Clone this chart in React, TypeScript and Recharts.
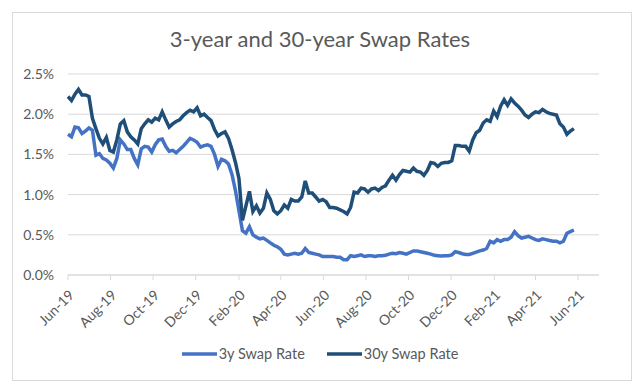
import { LineChart, Line, XAxis, YAxis, CartesianGrid, Legend } from 'recharts';

// sampled every 5 calendar days from 1 Jun 2019, values in %
const SAMPLE_START = '2019-06-01';
const SAMPLE_STEP_DAYS = 5;

const rate3y = [
  1.75, 1.72, 1.84, 1.83, 1.76, 1.79, 1.83, 1.8, 1.49, 1.51,
  1.45, 1.43, 1.39, 1.33, 1.45, 1.68, 1.63, 1.56, 1.56, 1.45,
  1.37, 1.57, 1.6, 1.59, 1.53, 1.62, 1.68, 1.69, 1.6, 1.54,
  1.55, 1.52, 1.56, 1.6, 1.65, 1.7, 1.68, 1.65, 1.59, 1.61,
  1.62, 1.6, 1.5, 1.35, 1.44, 1.42, 1.38, 1.25, 1.05, 0.8,
  0.55, 0.52, 0.6, 0.5, 0.47, 0.45, 0.46, 0.43, 0.4, 0.37,
  0.35, 0.32, 0.26, 0.25, 0.26, 0.27, 0.26, 0.27, 0.33, 0.28,
  0.27, 0.26, 0.25, 0.23, 0.23, 0.23, 0.23, 0.22, 0.22, 0.19,
  0.19, 0.24, 0.23, 0.24, 0.25, 0.23, 0.24, 0.24, 0.23, 0.24,
  0.24, 0.245, 0.26, 0.27, 0.265, 0.28, 0.27, 0.26, 0.28, 0.3,
  0.3, 0.29, 0.28, 0.27, 0.26, 0.245, 0.24, 0.235, 0.24, 0.24,
  0.25, 0.29, 0.28, 0.265, 0.255, 0.255, 0.27, 0.285, 0.3, 0.31,
  0.33, 0.42, 0.4, 0.44, 0.42, 0.44, 0.44, 0.47, 0.54, 0.49,
  0.46, 0.47, 0.48, 0.46, 0.44, 0.43, 0.45, 0.44, 0.43, 0.42,
  0.42, 0.4, 0.42, 0.52, 0.54, 0.56,
];

const rate30y = [
  2.22, 2.17, 2.25, 2.31, 2.24, 2.24, 2.22, 1.95, 1.82, 1.7,
  1.63, 1.71, 1.55, 1.53, 1.68, 1.88, 1.92, 1.78, 1.72, 1.68,
  1.63, 1.82, 1.88, 1.93, 1.9, 1.95, 1.93, 2.03, 1.93, 1.84,
  1.88, 1.91, 1.93, 1.98, 2.02, 2.05, 2.03, 2.08, 1.98, 2.0,
  1.96, 1.92, 1.81, 1.73, 1.76, 1.78, 1.7, 1.56, 1.4, 1.2,
  0.68, 0.86, 1.04, 0.79, 0.86, 0.77, 0.83, 1.02, 0.94, 0.8,
  0.76, 0.8, 0.87, 0.83, 0.94, 0.92, 0.92, 0.97, 1.17, 1.02,
  1.02, 0.97, 0.92, 0.94, 0.91, 0.84, 0.84, 0.83, 0.81, 0.79,
  0.76, 0.84, 1.03, 1.02, 1.08, 1.07, 1.03, 1.07, 1.08, 1.05,
  1.09, 1.11, 1.18, 1.24, 1.18, 1.25, 1.3, 1.29, 1.28, 1.33,
  1.29, 1.28, 1.24, 1.3, 1.4, 1.39, 1.35, 1.39, 1.4, 1.4,
  1.42, 1.61, 1.61, 1.6, 1.6, 1.54, 1.68, 1.77, 1.8, 1.89,
  1.93, 1.91, 2.04, 1.97, 2.1, 2.18, 2.11, 2.19, 2.14, 2.1,
  2.05, 1.99, 1.96, 2.0, 2.03, 2.02, 2.06, 2.03, 2.01, 2.0,
  1.99, 1.88, 1.84, 1.75, 1.79, 1.82,
];

const tickMonths = [
  '2019-06', '2019-08', '2019-10', '2019-12', '2020-02', '2020-04', '2020-06',
  '2020-08', '2020-10', '2020-12', '2021-02', '2021-04', '2021-06',
];
const axisStart = '2019-06-01';
const axisEnd = '2021-07-01';
const yTicks = [0, 0.5, 1, 1.5, 2, 2.5];

const MONTH_NAMES = ['Jan', 'Feb', 'Mar', 'Apr', 'May', 'Jun', 'Jul', 'Aug', 'Sep', 'Oct', 'Nov', 'Dec'];
const DAY = 86400000;
const utc = (s: string) => Date.parse(s + 'T00:00:00Z');

const t0 = utc(SAMPLE_START);
const data = rate3y.map((v, i) => ({
  date: t0 + i * SAMPLE_STEP_DAYS * DAY,
  r3: v,
  r30: rate30y[i],
}));
const xTicks = tickMonths.map((m) => utc(m + '-01'));

const fmtMonth = (v: number) => {
  const d = new Date(v);
  return `${MONTH_NAMES[d.getUTCMonth()]}-${String(d.getUTCFullYear()).slice(2)}`;
};

const FONT = 'Lato, "Open Sans", sans-serif';
const TEXT = '#595959';
const GRID = '#d9d9d9';
const C3 = '#4472c4';
const C30 = '#1f4e79';

const series = [
  { key: 'r3', name: '3y Swap Rate', color: C3 },
  { key: 'r30', name: '30y Swap Rate', color: C30 },
];

const LegendContent = () => (
  <div style={{ display: 'flex', justifyContent: 'center', gap: 22, fontFamily: FONT, fontSize: 14.5, color: TEXT }}>
    {series.map((s) => (
      <span key={s.key} style={{ display: 'flex', alignItems: 'center', gap: 2 }}>
        <svg width={35} height={6}>
          <line x1={0} y1={3} x2={35} y2={3} stroke={s.color} strokeWidth={3.5} />
        </svg>
        {s.name}
      </span>
    ))}
  </div>
);

const App = () => {
  return (
    <div style={{ position: 'fixed', left: 0, top: 0, width: 640, height: 390, background: '#fff' }}>
      <div
        style={{
          position: 'absolute', left: 12, top: 12, width: 618, height: 367,
          border: `1px solid ${GRID}`,
        }}
      />
      <div
        style={{
          position: 'absolute', left: 0, top: 25, width: 640, textAlign: 'center',
          fontFamily: FONT, fontSize: 22, color: TEXT,
        }}
      >
        3-year and 30-year Swap Rates
      </div>
      <div style={{ position: 'absolute', left: 0, top: 0 }}>
        <LineChart width={640} height={390} data={data} margin={{ top: 74, right: 41, bottom: 55, left: 0 }}>
          <CartesianGrid vertical={false} stroke={GRID} />
          <XAxis
            dataKey="date"
            type="number"
            scale="time"
            domain={[utc(axisStart), utc(axisEnd)]}
            ticks={xTicks}
            tickFormatter={fmtMonth}
            interval={0}
            angle={-45}
            textAnchor="end"
            height={60}
            stroke={GRID}
            tickSize={5}
            tickMargin={9}
            tick={{ fill: TEXT, fontSize: 14, fontFamily: FONT }}
          />
          <YAxis
            domain={[0, 2.5]}
            ticks={yTicks}
            tickFormatter={(v: number) => `${v.toFixed(1)}%`}
            width={68}
            axisLine={false}
            tickLine={false}
            tickMargin={8}
            tick={{ fill: TEXT, fontSize: 14, fontFamily: FONT }}
          />
          <Legend
            layout="vertical"
            verticalAlign="middle"
            align="center"
            wrapperStyle={{ top: 345, left: 0, width: 640 }}
            content={LegendContent}
          />
          {series.map((s) => (
            <Line
              key={s.key}
              type="linear"
              dataKey={s.key}
              name={s.name}
              stroke={s.color}
              strokeWidth={3.5}
              dot={false}
              isAnimationActive={false}
            />
          ))}
        </LineChart>
      </div>
    </div>
  );
};

export default App;
